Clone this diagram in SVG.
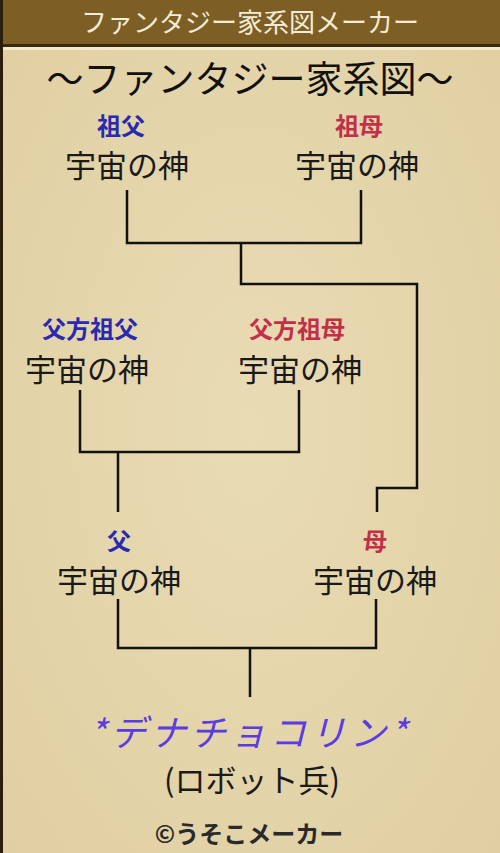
<svg xmlns="http://www.w3.org/2000/svg" width="500" height="853" viewBox="0 0 500 853">
<style>
.n{font-family:"Noto Sans CJK JP","Noto Sans",sans-serif;text-anchor:middle}
.name{font-size:31px;fill:#1a1a1a}
.role{font-size:24px;font-weight:bold}
.m{fill:#2a2ab0}
.f{fill:#c0304a}
.ln{fill:none;stroke:#111;stroke-width:2.5}
</style>
<defs>
<radialGradient id="bg" cx="50%" cy="50%" r="70%">
<stop offset="0" stop-color="#e9dbb4"/>
<stop offset="1" stop-color="#e0cfa2"/>
</radialGradient>
</defs>
<rect width="500" height="853" fill="url(#bg)"/>
<rect width="500" height="44" fill="#7d5f26"/>
<rect y="44" width="500" height="3" fill="#3a2a10"/>
<rect y="47" width="500" height="3" fill="#f3e8c8"/>
<rect x="0" y="0" width="3" height="853" fill="#2a1e0c"/>
<text x="250" y="32" class="n" font-size="26" fill="#f4ecd6">ファンタジー家系図メーカー</text>
<text x="250" y="93" class="n" font-size="37" fill="#111">〜ファンタジー家系図〜</text>

<g id="connectors">
<polyline class="ln" points="127,190 127,243 361,243 361,190"/>
<polyline class="ln" points="241,243 241,284 417,284 417,488 377,488 377,512"/>
<polyline class="ln" points="80,390 80,452 299,452 299,390"/>
<line class="ln" x1="118" y1="452" x2="118" y2="512"/>
<polyline class="ln" points="118,599 118,648 376,648 376,599"/>
<line class="ln" x1="250" y1="648" x2="250" y2="697"/>
</g>

<g id="grandfather">
<text x="121" y="135" class="n role m">祖父</text>
<text x="127" y="177" class="n name">宇宙の神</text>
</g>
<g id="grandmother">
<text x="359" y="135" class="n role f">祖母</text>
<text x="357" y="177" class="n name">宇宙の神</text>
</g>
<g id="paternal-grandfather">
<text x="90" y="338" class="n role m">父方祖父</text>
<text x="87" y="381" class="n name">宇宙の神</text>
</g>
<g id="paternal-grandmother">
<text x="297" y="338" class="n role f">父方祖母</text>
<text x="300" y="381" class="n name">宇宙の神</text>
</g>
<g id="father">
<text x="119" y="550" class="n role m">父</text>
<text x="119" y="592" class="n name">宇宙の神</text>
</g>
<g id="mother">
<text x="375" y="550" class="n role f">母</text>
<text x="375" y="592" class="n name">宇宙の神</text>
</g>
<g id="child">
<text x="250" y="746" class="n" font-size="36" fill="#5a3ce0" font-style="italic" letter-spacing="4">*デナチョコリン*</text>
<text x="252" y="792" class="n" font-size="31" fill="#1a1a1a">(ロボット兵)</text>
</g>
<text x="249" y="843" class="n" font-size="24" font-weight="bold" fill="#2a2a2a">©うそこメーカー</text>
</svg>
